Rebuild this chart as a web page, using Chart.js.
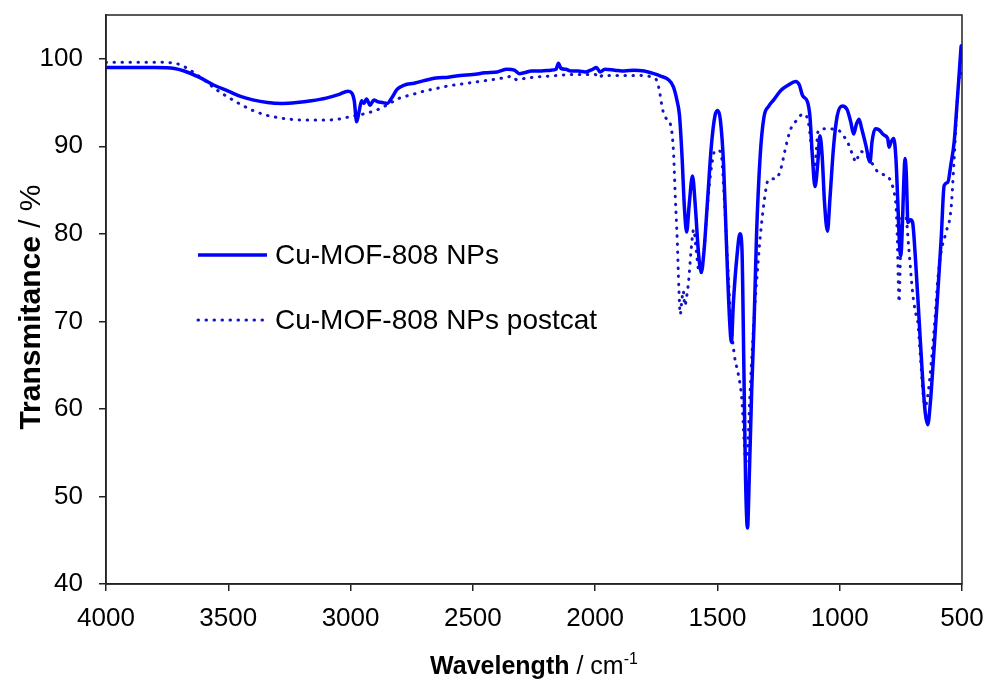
<!DOCTYPE html>
<html>
<head>
<meta charset="utf-8">
<title>FTIR Cu-MOF-808</title>
<script src="https://cdn.jsdelivr.net/npm/chart.js@4.4.1/dist/chart.umd.min.js"></script>
<style>
  body { margin: 0; background: #fff; }
  #wrap { width: 987px; height: 680px; }
</style>
</head>
<body>
<div id="wrap"><canvas id="myChart" width="987" height="680"></canvas></div>
<script>
// 시리즈 이름
const seriesNames = ['Cu-MOF-808 NPs', 'Cu-MOF-808 NPs postcat'];

// 축 눈금
const xTicks = [4000, 3500, 3000, 2500, 2000, 1500, 1000, 500];
const yTicks = [40, 50, 60, 70, 80, 90, 100];

// Cu-MOF-808 NPs (실선)
const waveSolid = [
  4000, 3900, 3800, 3720, 3680, 3620, 3560, 3500, 3450, 3400, 3340, 3280, 3220, 3160, 3100, 3050,
  3010, 2995, 2985, 2975, 2965, 2955, 2945, 2935, 2920, 2905, 2890, 2870, 2850, 2830, 2810, 2780,
  2740, 2700, 2650, 2600, 2550, 2500, 2450, 2400, 2360, 2330, 2310, 2290, 2260, 2220, 2180, 2160,
  2150, 2140, 2120, 2100, 2070, 2040, 2010, 1995, 1980, 1960, 1920, 1880, 1840, 1800, 1760, 1730,
  1700, 1680, 1665, 1655, 1645, 1635, 1626, 1615, 1602, 1590, 1578, 1566, 1555, 1540, 1525, 1510,
  1499, 1488, 1475, 1462, 1450, 1443, 1435, 1420, 1408, 1400, 1392, 1385, 1377, 1370, 1360, 1350,
  1340, 1325, 1310, 1290, 1270, 1240, 1210, 1180, 1165, 1152, 1132, 1122, 1112, 1101, 1090, 1081,
  1072, 1062, 1050, 1040, 1025, 1010, 990, 970, 955, 943, 932, 921, 910, 893, 880, 876,
  868, 855, 840, 820, 804, 798, 790, 779, 770, 763, 755, 750, 745, 738, 733, 728,
  721, 715, 710, 702, 690, 675, 660, 650, 640, 630, 615, 599, 585, 573, 558, 545,
  532, 520, 512, 506, 503, 500
];
const transSolid = [
  99.0, 99.0, 99.0, 98.9, 98.6, 97.9, 97.0, 96.3, 95.7, 95.3, 95.0, 94.9, 95.0, 95.2, 95.5, 95.9,
  96.3, 96.1, 95.2, 92.8, 94.0, 95.2, 94.9, 95.4, 94.7, 95.3, 95.1, 95.0, 94.9, 95.6, 96.5, 97.0,
  97.2, 97.5, 97.8, 97.9, 98.1, 98.2, 98.4, 98.5, 98.8, 98.7, 98.3, 98.4, 98.6, 98.6, 98.7, 98.8,
  99.5, 98.9, 98.8, 98.6, 98.6, 98.5, 98.8, 99.0, 98.5, 98.8, 98.7, 98.6, 98.7, 98.6, 98.3, 98.0,
  97.6, 96.8, 95.2, 93.5, 89.0, 83.0, 80.2, 83.5, 86.6, 83.0, 78.0, 75.6, 78.0, 84.0, 90.0, 93.5,
  94.1, 93.0, 88.0, 78.0, 70.0, 67.6, 72.0, 77.5, 80.0, 78.5, 65.0, 52.0, 46.4, 52.0, 62.0, 70.0,
  80.0, 89.0, 93.3, 94.6, 95.3, 96.4, 97.0, 97.4, 97.0, 95.8, 95.1, 93.5, 89.0, 85.4, 88.0, 91.2,
  89.0, 83.5, 80.3, 84.0, 90.0, 93.5, 94.6, 94.2, 92.8, 91.4, 92.5, 93.1, 92.0, 90.1, 88.4, 88.2,
  90.5, 92.0, 91.9, 91.3, 90.9, 89.9, 90.5, 90.9, 88.5, 84.0, 78.5, 77.5, 80.0, 86.0, 88.6, 87.0,
  81.3, 81.5, 81.6, 81.3, 77.0, 70.0, 63.0, 59.5, 58.2, 60.5, 66.5, 73.3, 79.5, 85.5, 85.9, 88.0,
  90.5, 95.0, 98.1, 100.5, 101.5, 99.5
];

// Cu-MOF-808 NPs postcat (점선)
const waveDotted = [
  4000, 3900, 3800, 3720, 3680, 3640, 3600, 3550, 3500, 3450, 3400, 3350, 3300, 3250, 3200, 3150,
  3100, 3050, 3000, 2960, 2920, 2880, 2840, 2800, 2750, 2700, 2650, 2600, 2550, 2500, 2450, 2400,
  2360, 2340, 2320, 2300, 2250, 2200, 2150, 2100, 2050, 2000, 1985, 1970, 1920, 1870, 1820, 1780,
  1760, 1746, 1735, 1725, 1710, 1691, 1680, 1672, 1664, 1658, 1652, 1645, 1640, 1633, 1626, 1618,
  1608, 1597, 1588, 1578, 1568, 1555, 1540, 1525, 1510, 1495, 1485, 1472, 1459, 1445, 1430, 1415,
  1400, 1390, 1384, 1377, 1368, 1355, 1343, 1323, 1305, 1295, 1278, 1261, 1241, 1220, 1200, 1175,
  1150, 1135, 1126, 1118, 1111, 1104, 1097, 1090, 1085, 1070, 1050, 1036, 1020, 1003, 985, 968,
  955, 947, 933, 925, 912, 895, 879, 862, 845, 825, 804, 790, 778, 770, 765, 760,
  757, 753, 748, 743, 730, 718, 702, 690, 682, 670, 660, 651, 640, 625, 610, 599,
  585, 565, 545, 532, 517, 504, 500
];
const transDotted = [
  99.6, 99.6, 99.6, 99.5, 99.1, 98.4, 97.6, 96.5, 95.6, 94.8, 94.1, 93.6, 93.3, 93.1, 93.0, 93.0,
  93.0, 93.1, 93.4, 93.6, 93.9, 94.3, 94.9, 95.5, 95.9, 96.3, 96.6, 96.9, 97.1, 97.3, 97.5, 97.7,
  97.9, 98.0, 97.6, 97.7, 97.9, 98.0, 98.1, 98.2, 98.2, 98.2, 97.8, 98.1, 98.1, 98.1, 98.1, 98.0,
  97.8, 97.4, 96.0, 94.3, 93.2, 92.4, 89.5, 84.0, 79.0, 74.0, 70.8, 72.5, 73.5, 71.8, 72.8, 74.5,
  78.0, 80.5, 78.5, 76.0, 75.5, 78.0, 83.5, 87.5, 89.5, 89.5, 89.2, 84.0, 77.0, 70.0, 66.0, 64.0,
  61.0, 56.0, 54.0, 55.0, 61.0, 68.0, 73.3, 80.2, 84.5, 86.0, 86.3, 86.3, 87.4, 90.0, 92.0, 93.0,
  93.7, 93.4, 92.4, 90.5, 88.6, 87.5, 89.0, 91.5, 91.8, 92.0, 92.0, 92.0, 91.9, 91.8, 91.2, 90.5,
  89.6, 89.0, 88.2, 88.8, 89.4, 89.0, 88.6, 87.8, 87.1, 86.8, 86.6, 85.9, 84.8, 83.2, 80.0, 74.0,
  72.2, 76.0, 81.5, 82.0, 82.0, 78.5, 73.3, 71.0, 70.2, 66.0, 62.0, 60.3, 61.5, 65.5, 70.5, 74.8,
  78.0, 80.2, 82.8, 88.6, 96.2, 98.5, 98.0
];

const solidColor = '#0000ff';
const dottedColor = '#1414c4';
const FONT = '"Liberation Sans", Arial, sans-serif';

// 라이브러리용 {x, y} 배열
const toPoints = (xs, ys) => xs.map((x, i) => ({ x: x, y: ys[i] }));

// 테두리, 축 제목, 범례를 그리는 플러그인
const decorPlugin = {
  id: 'decor',
  afterDraw(chart) {
    const c = chart.ctx;
    const a = chart.chartArea;
    c.save();

    // 플롯 테두리
    c.strokeStyle = '#222';
    c.lineWidth = 1.5;
    c.strokeRect(a.left, a.top, a.right - a.left, a.bottom - a.top);

    c.fillStyle = '#000';
    c.textBaseline = 'alphabetic';

    // y축 제목
    c.save();
    c.translate(40, 307);
    c.rotate(-Math.PI / 2);
    c.font = 'bold 30px ' + FONT;
    const yb = c.measureText('Transmitance').width;
    c.font = '30px ' + FONT;
    const yn = c.measureText(' / %').width;
    let sx = -(yb + yn) / 2;
    c.font = 'bold 30px ' + FONT;
    c.fillText('Transmitance', sx, 0);
    c.font = '30px ' + FONT;
    c.fillText(' / %', sx + yb, 0);
    c.restore();

    // x축 제목
    c.font = 'bold 25px ' + FONT;
    const xb = c.measureText('Wavelength').width;
    c.font = '25px ' + FONT;
    const xn = c.measureText(' / cm').width;
    c.font = '16px ' + FONT;
    const xs = c.measureText('-1').width;
    sx = (a.left + a.right) / 2 - (xb + xn + xs) / 2;
    const by = 674;
    c.font = 'bold 25px ' + FONT;
    c.fillText('Wavelength', sx, by);
    c.font = '25px ' + FONT;
    c.fillText(' / cm', sx + xb, by);
    c.font = '16px ' + FONT;
    c.fillText('-1', sx + xb + xn, by - 10);

    // 범례
    const rows = [255, 320];
    chart.data.datasets.forEach((ds, i) => {
      const y = rows[i];
      c.beginPath();
      c.strokeStyle = ds.borderColor;
      c.lineWidth = ds.borderWidth;
      c.lineCap = ds.borderCapStyle || 'butt';
      c.setLineDash(ds.borderDash || []);
      c.moveTo(198, y);
      c.lineTo(267, y);
      c.stroke();
      c.setLineDash([]);
      c.font = '28px ' + FONT;
      c.textBaseline = 'middle';
      c.fillStyle = '#000';
      c.fillText(ds.label, 275, y + 1);
    });

    c.restore();
  }
};

const ctx = document.getElementById('myChart').getContext('2d');
const chart = new Chart(ctx, {
  type: 'line',
  data: {
    datasets: [{
      label: seriesNames[0],
      data: toPoints(waveSolid, transSolid),
      borderColor: solidColor,
      borderWidth: 3.5,
      pointRadius: 0,
      fill: false,
      cubicInterpolationMode: 'monotone'
    }, {
      label: seriesNames[1],
      data: toPoints(waveDotted, transDotted),
      borderColor: dottedColor,
      borderWidth: 3,
      borderDash: [0.5, 7.5],
      borderCapStyle: 'round',
      pointRadius: 0,
      fill: false,
      cubicInterpolationMode: 'monotone'
    }]
  },
  options: {
    responsive: false,
    animation: false,
    layout: { padding: { top: 15, right: 25, left: 0, bottom: 0 } },
    plugins: {
      legend: { display: false },
      tooltip: { enabled: false }
    },
    scales: {
      x: {
        type: 'linear',
        reverse: true,
        min: 500,
        max: 4000,
        afterFit: s => { s.height = 96; s.paddingLeft = 0; s.paddingRight = 0; },
        afterBuildTicks: s => { s.ticks = xTicks.map(v => ({ value: v })); },
        grid: { drawOnChartArea: false, drawTicks: true, tickLength: 7, color: '#222', lineWidth: 1.5 },
        border: { display: true, color: '#222', width: 1.5 },
        ticks: {
          color: '#000',
          font: { family: FONT, size: 26 },
          padding: 12,
          maxRotation: 0,
          autoSkip: false,
          callback: v => String(v)
        }
      },
      y: {
        type: 'linear',
        min: 40,
        max: 105,
        afterFit: s => { s.width = 106; s.paddingTop = 0; s.paddingBottom = 0; },
        afterBuildTicks: s => { s.ticks = yTicks.map(v => ({ value: v })); },
        grid: { drawOnChartArea: false, drawTicks: true, tickLength: 7, color: '#222', lineWidth: 1.5 },
        border: { display: true, color: '#222', width: 1.5 },
        ticks: {
          color: '#000',
          font: { family: FONT, size: 26 },
          padding: 16,
          callback: v => String(v)
        }
      }
    }
  },
  plugins: [decorPlugin]
});
</script>
</body>
</html>
